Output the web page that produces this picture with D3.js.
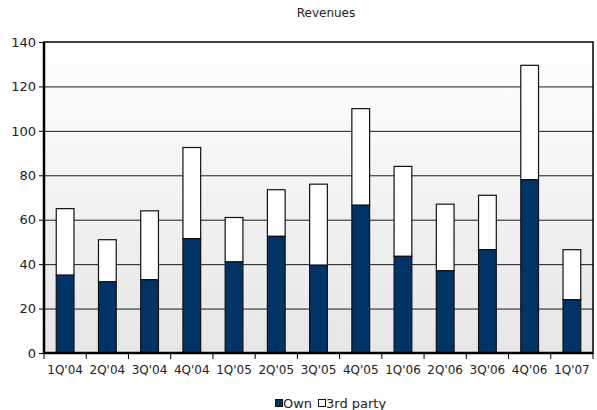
<!DOCTYPE html>
<html>
<head>
<meta charset="utf-8">
<script src="https://cdn.jsdelivr.net/npm/d3@7"></script>
<style>
  body { margin: 0; background: #fff; }
  text { font-family: "DejaVu Sans", Verdana, sans-serif; fill: #222; }
</style>
</head>
<body>
<svg width="597" height="410"></svg>
<script>
// chart data
var quarters = ["1Q'04", "2Q'04", "3Q'04", "4Q'04", "1Q'05", "2Q'05", "3Q'05",
                "4Q'05", "1Q'06", "2Q'06", "3Q'06", "4Q'06", "1Q'07"];
var own = [35, 32, 33, 51.5, 41, 52.5, 39.5, 66.5, 43.5, 37, 46.5, 78, 24];
var thirdParty = [30, 19, 31, 41, 20, 21, 36.5, 43.5, 40.5, 30, 24.5, 51.5, 22.5];
var yTicks = [0, 20, 40, 60, 80, 100, 120, 140];

var svg = d3.select("svg"),
    margin = {top: 42, right: 4, bottom: 57, left: 44},
    width = +svg.attr("width") - margin.left - margin.right,
    height = +svg.attr("height") - margin.top - margin.bottom;

var x = d3.scaleBand().domain(quarters).range([0, width]).paddingInner(0.58).paddingOuter(0.29);
var xb = d3.scaleBand().domain(quarters).range([0, width]);
var y = d3.scaleLinear().domain([0, 140]).range([height, 0]);

var defs = svg.append("defs");
var grad = defs.append("linearGradient")
    .attr("id", "bg").attr("x1", 0).attr("y1", 0).attr("x2", 0).attr("y2", 1);
grad.append("stop").attr("offset", "0%").attr("stop-color", "#ffffff");
grad.append("stop").attr("offset", "100%").attr("stop-color", "#e6e6e6");

var g = svg.append("g")
    .attr("transform", "translate(" + margin.left + "," + margin.top + ")");

g.append("rect")
    .attr("width", width)
    .attr("height", height)
    .attr("fill", "url(#bg)");

// grid lines
g.selectAll(".grid")
    .data(yTicks.slice(1, -1))
    .enter().append("line")
    .attr("x1", 0).attr("x2", width)
    .attr("y1", function (d) { return y(d) + 0.5; })
    .attr("y2", function (d) { return y(d) + 0.5; })
    .attr("stroke", "#1a1a1a")
    .attr("stroke-width", 1);

var stacked = quarters.map(function (q, i) {
    return {q: q, own: own[i], third: thirdParty[i]};
});

// 3rd party (top segment)
g.selectAll(".third")
    .data(stacked)
    .enter().append("rect")
    .attr("x", function (d) { return x(d.q); })
    .attr("width", x.bandwidth())
    .attr("y", function (d) { return y(d.own + d.third); })
    .attr("height", function (d) { return y(d.own) - y(d.own + d.third); })
    .attr("fill", "#ffffff")
    .attr("stroke", "#111")
    .attr("stroke-width", 1.2);

// own (bottom segment)
g.selectAll(".own")
    .data(stacked)
    .enter().append("rect")
    .attr("x", function (d) { return x(d.q); })
    .attr("width", x.bandwidth())
    .attr("y", function (d) { return y(d.own); })
    .attr("height", function (d) { return height - y(d.own); })
    .attr("fill", "#003366")
    .attr("stroke", "#111")
    .attr("stroke-width", 1.2);

// frame
g.append("rect")
    .attr("width", width)
    .attr("height", height)
    .attr("fill", "none")
    .attr("stroke", "#000")
    .attr("stroke-width", 1.5);

// axes
var yAxis = d3.axisLeft(y).tickValues(yTicks).tickSize(5).tickPadding(3);
var yg = g.append("g").call(yAxis);
yg.select(".domain").attr("stroke-width", 2.5).attr("d", "M0," + height + "V0");
yg.selectAll("text").style("font-size", "13px");

var xg = g.append("g").attr("transform", "translate(0," + height + ")");
xg.append("line").attr("x1", 0).attr("x2", width).attr("stroke", "#000").attr("stroke-width", 2.5);
xg.selectAll(".tk")
    .data(quarters.concat(["end"]))
    .enter().append("line")
    .attr("x1", function (d, i) { return i * xb.bandwidth(); })
    .attr("x2", function (d, i) { return i * xb.bandwidth(); })
    .attr("y1", 0).attr("y2", 6)
    .attr("stroke", "#000");
xg.selectAll(".lbl")
    .data(quarters)
    .enter().append("text")
    .attr("x", function (d) { return xb(d) + xb.bandwidth() / 2; })
    .attr("y", 21)
    .attr("text-anchor", "middle")
    .style("font-size", "12px")
    .text(function (d) { return d; });

// title
svg.append("text")
    .attr("x", 326).attr("y", 17)
    .attr("text-anchor", "middle")
    .style("font-size", "12px")
    .text("Revenues");

// legend
var legend = svg.append("g").attr("transform", "translate(275,399)");
legend.append("rect").attr("width", 7).attr("height", 7).attr("x", 0.5).attr("y", 0.5)
    .attr("fill", "#003366").attr("stroke", "#111");
legend.append("text").attr("x", 8).attr("y", 9).style("font-size", "13px").text("Own");
legend.append("rect").attr("width", 7).attr("height", 7).attr("x", 43.5).attr("y", 0.5)
    .attr("fill", "#fff").attr("stroke", "#111");
legend.append("text").attr("x", 51).attr("y", 9).style("font-size", "13px").text("3rd party");
</script>
</body>
</html>
